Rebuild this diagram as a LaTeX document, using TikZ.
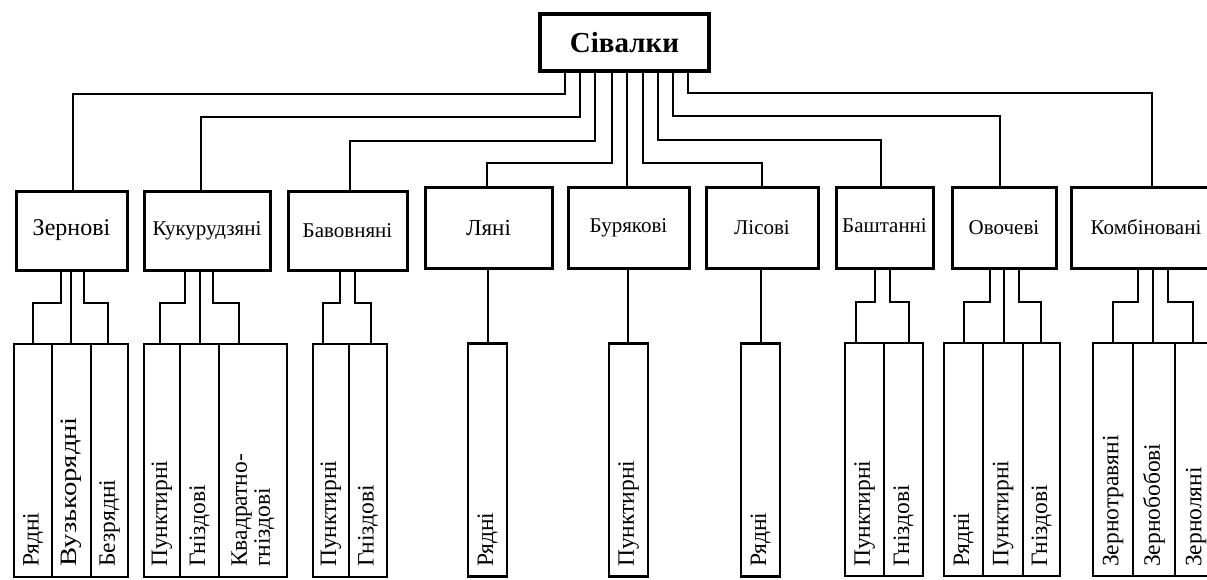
\documentclass[tikz,border=0pt]{standalone}
\usepackage{fontspec}
\setmainfont{Liberation Serif}
\newfontfamily\widefont[FakeStretch=1.22]{Liberation Serif}
\begin{document}
\begin{tikzpicture}[x=1pt,y=-1pt,
  topbox/.style={draw, line width=4pt, inner sep=0pt, font=\bfseries\fontsize{29}{31}\selectfont},
  box/.style={draw, line width=3pt, inner sep=0pt, font=\fontsize{21}{23}\selectfont},
  subbox/.style={draw, line width=2.8pt, inner sep=0pt, minimum height=233},
  subtxt/.style={rotate=90, anchor=west, inner sep=0pt, align=left, font=\fontsize{23.5}{23}\selectfont},
  conn/.style={line width=2.2pt, line cap=rect}]
\useasboundingbox (0,0) rectangle (1207,579);
\clip (0,0) rectangle (1207,579);
\fill[white] (0,0) rectangle (1207,579);

% top node
\node[topbox, minimum width=169, minimum height=57] (top) at (624.5,42.5) {Сівалки};

% second level
\node[box, minimum width=111, minimum height=79, font=\fontsize{24}{26}\selectfont] (z) at (71.5,230.5) {Зернові};
\node[box, minimum width=126, minimum height=79] (k) at (207,230.5) {Кукурудзяні};
\node[box, minimum width=119, minimum height=79] (b) at (347.5,230.5) {Бавовняні};
\node[box, minimum width=127, minimum height=81, font=\fontsize{23}{25}\selectfont] (l) at (488.5,227.5) {Ляні};
\node[box, minimum width=121, minimum height=81] (bu) at (628.5,227.5) {Бурякові};
\node[box, minimum width=112, minimum height=81] (li) at (762,227.5) {Лісові};
\node[box, minimum width=97, minimum height=81] (ba) at (884.5,227.5) {\raisebox{4pt}{Баштанні}};
\node[box, minimum width=104, minimum height=81] (ov) at (1004,227.5) {Овочеві};
\node[box, minimum width=150, minimum height=81] (kom) at (1146,227.5) {Комбіновані};

% connectors from top
\draw[conn] (top.south -| 565,0) |- (73,94) -- (z.north -| 73,0);
\draw[conn] (top.south -| 580,0) |- (201,117) -- (k.north -| 201,0);
\draw[conn] (top.south -| 595,0) |- (350,141) -- (b.north -| 350,0);
\draw[conn] (top.south -| 612,0) |- (487,163) -- (l.north -| 487,0);
\draw[conn] (top.south -| 627,0) -- (bu.north -| 627,0);
\draw[conn] (top.south -| 643,0) |- (762,163) -- (li.north -| 762,0);
\draw[conn] (top.south -| 658,0) |- (881,140) -- (ba.north -| 881,0);
\draw[conn] (top.south -| 673,0) |- (1000,116) -- (ov.north -| 1000,0);
\draw[conn] (top.south -| 688,0) |- (1152,93) -- (kom.north -| 1152,0);

% third level boxes
\node[subbox, minimum width=38] (z1) at (33,460.5) {};
\node[subbox, minimum width=39] (z2) at (71.5,460.5) {};
\node[subbox, minimum width=37] (z3) at (109.5,460.5) {};
\node[subbox, minimum width=36] (k1) at (162,460.5) {};
\node[subbox, minimum width=39] (k2) at (199.5,460.5) {};
\node[subbox, minimum width=68] (k3) at (253,460.5) {};
\node[subbox, minimum width=36] (b1) at (331,460.5) {};
\node[subbox, minimum width=38] (b2) at (368,460.5) {};
\node[subbox, minimum width=39] (l1) at (487.5,460) {};
\node[subbox, minimum width=39] (bu1) at (628.5,460) {};
\node[subbox, minimum width=39] (li1) at (760.5,460) {};
\node[subbox, minimum width=39] (ba1) at (864.5,459.5) {};
\node[subbox, minimum width=39] (ba2) at (903.5,459.5) {};
\node[subbox, minimum width=39] (o1) at (963.5,459.5) {};
\node[subbox, minimum width=40] (o2) at (1003,459.5) {};
\node[subbox, minimum width=37] (o3) at (1041.5,459.5) {};
\node[subbox, minimum width=40] (c1) at (1113,459.5) {};
\node[subbox, minimum width=42] (c2) at (1154,459.5) {};
\node[subbox, minimum width=42] (c3) at (1196,459.5) {};

% third level texts
\node[subtxt] (z1t) at (z1.south |- 0,567) {Рядні};
\node[subtxt, font=\widefont\fontsize{23.5}{23}\selectfont] (z2t) at (z2.south |- 0,567) {Вузькорядні};
\node[subtxt] (z3t) at (z3.south |- 0,567) {Безрядні};
\node[subtxt] (k1t) at (k1.south |- 0,567) {Пунктирні};
\node[subtxt] (k2t) at (k2.south |- 0,567) {Гніздові};
\node[subtxt] (k3t) at (k3.south |- 0,567) {Квадратно-\\гніздові};
\node[subtxt] (b1t) at (b1.south |- 0,567) {Пунктирні};
\node[subtxt] (b2t) at (b2.south |- 0,567) {Гніздові};
\node[subtxt] (l1t) at (l1.south |- 0,567) {Рядні};
\node[subtxt] (bu1t) at (bu1.south |- 0,567) {Пунктирні};
\node[subtxt] (li1t) at (li1.south |- 0,567) {Рядні};
\node[subtxt] (ba1t) at (ba1.south |- 0,567) {Пунктирні};
\node[subtxt] (ba2t) at (ba2.south |- 0,567) {Гніздові};
\node[subtxt] (o1t) at (o1.south |- 0,567) {Рядні};
\node[subtxt] (o2t) at (o2.south |- 0,567) {Пунктирні};
\node[subtxt] (o3t) at (o3.south |- 0,567) {Гніздові};
\node[subtxt] (c1t) at (c1.south |- 0,567) {Зернотравяні};
\node[subtxt] (c2t) at (c2.south |- 0,567) {Зернобобові};
\node[subtxt] (c3t) at (c3.south |- 0,567) {Зерноляні};

% connectors second -> third
\draw[conn] (z.south -| 61,0) |- (33,303) -- (z1.north -| 33,0);
\draw[conn] (z.south -| 71,0) -- (z2.north -| 71,0);
\draw[conn] (z.south -| 84,0) |- (108,303) -- (z3.north -| 108,0);
\draw[conn] (k.south -| 185,0) |- (160,303) -- (k1.north -| 160,0);
\draw[conn] (k.south -| 200,0) -- (k2.north -| 200,0);
\draw[conn] (k.south -| 213,0) |- (239,303) -- (k3.north -| 239,0);
\draw[conn] (b.south -| 340,0) |- (323,303) -- (b1.north -| 323,0);
\draw[conn] (b.south -| 355,0) |- (371,303) -- (b2.north -| 371,0);
\draw[conn] (l.south -| 488,0) -- (l1.north -| 488,0);
\draw[conn] (bu.south -| 628,0) -- (bu1.north -| 628,0);
\draw[conn] (li.south -| 761,0) -- (li1.north -| 761,0);
\draw[conn] (ba.south -| 875,0) |- (856,302) -- (ba1.north -| 856,0);
\draw[conn] (ba.south -| 890,0) |- (909,302) -- (ba2.north -| 909,0);
\draw[conn] (ov.south -| 990,0) |- (964,302) -- (o1.north -| 964,0);
\draw[conn] (ov.south -| 1004,0) -- (o2.north -| 1004,0);
\draw[conn] (ov.south -| 1019,0) |- (1041,302) -- (o3.north -| 1041,0);
\draw[conn] (kom.south -| 1138,0) |- (1113,302) -- (c1.north -| 1113,0);
\draw[conn] (kom.south -| 1153,0) -- (c2.north -| 1153,0);
\draw[conn] (kom.south -| 1168,0) |- (1193,302) -- (c3.north -| 1193,0);
\end{tikzpicture}
\end{document}
